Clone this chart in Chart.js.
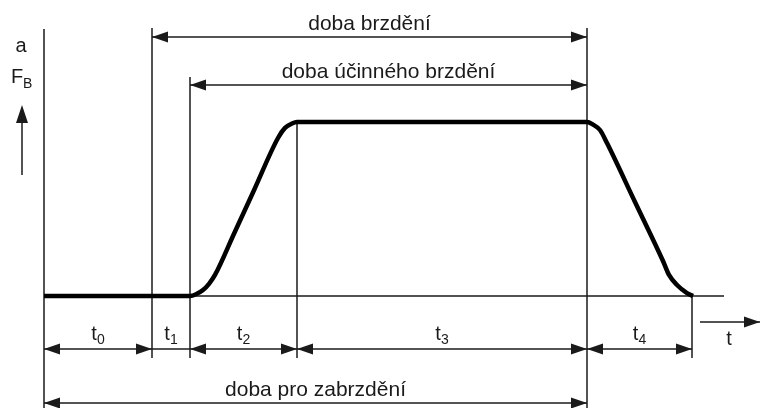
<!DOCTYPE html>
<html>
<head>
<meta charset="utf-8">
<script src="https://cdn.jsdelivr.net/npm/chart.js@4/dist/chart.umd.min.js"></script>
<style>
  html, body { margin: 0; padding: 0; background: #fff; }
  #wrap { width: 760px; height: 408px; }
</style>
</head>
<body>
<div id="wrap"><canvas id="brakeChart" width="760" height="408"></canvas></div>
<script>
// braking phases t0..t4 and their durations (same units as the time axis)
const phaseNames = ['0', '1', '2', '3', '4'];
const phaseDurations = [108, 38, 107, 290, 105];
const timeAxisEnd = 680;

// braking deceleration / force profile, 1 = full braking
const curveTime  = [0, 146, 152, 159, 165, 171, 190, 210, 234, 241, 248, 253,
                    543, 549, 556, 563, 591, 619, 625, 633, 643, 649];
const curveLevel = [0, 0, 0.01, 0.034, 0.07, 0.121, 0.358, 0.608, 0.908, 0.966, 0.991, 1,
                    1, 0.985, 0.954, 0.879, 0.54, 0.201, 0.121, 0.063, 0.017, 0];

// time spans over the diagram: label, first phase, last phase
const spanLabels = ['doba brzdění', 'doba účinného brzdění', 'doba pro zabrzdění'];
const spanFrom = [1, 2, 0];
const spanTo = [3, 3, 3];

const bounds = [0];
phaseDurations.forEach(d => bounds.push(bounds[bounds.length - 1] + d));

const FONT = '"Liberation Sans", Arial, sans-serif';
const INK = '#1a1a1a';

function arrowHead(ctx, x, y, dir) {
  // dir: 1 = pointing right, -1 = left, 'up'
  ctx.beginPath();
  if (dir === 'up') {
    ctx.moveTo(x, y);
    ctx.lineTo(x - 6, y + 18);
    ctx.lineTo(x + 6, y + 18);
  } else {
    ctx.moveTo(x, y);
    ctx.lineTo(x - dir * 16, y - 5.5);
    ctx.lineTo(x - dir * 16, y + 5.5);
  }
  ctx.closePath();
  ctx.fill();
}

function dimLine(ctx, x1, x2, y, heads) {
  ctx.beginPath();
  ctx.moveTo(x1, y);
  ctx.lineTo(x2, y);
  ctx.stroke();
  if (heads) {
    arrowHead(ctx, x1, y, -1);
    arrowHead(ctx, x2, y, 1);
  }
}

const diagramPlugin = {
  id: 'diagram',
  beforeDatasetsDraw(chart) {
    const ctx = chart.ctx;
    const xs = chart.scales.x, ys = chart.scales.y;
    const base = ys.getPixelForValue(0);
    const top = ys.getPixelForValue(1);
    const bx = bounds.map(b => xs.getPixelForValue(b));

    ctx.save();
    ctx.strokeStyle = INK;
    ctx.lineWidth = 1.5;
    // time axis
    ctx.beginPath();
    ctx.moveTo(bx[0], base);
    ctx.lineTo(xs.getPixelForValue(timeAxisEnd), base);
    ctx.stroke();
    // phase boundaries
    const tops = [29, 28, 77, top, 28, base];
    const bottoms = [408, 358, 358, 358, 408, 358];
    bx.forEach((x, i) => {
      ctx.beginPath();
      ctx.moveTo(x, tops[i]);
      ctx.lineTo(x, bottoms[i]);
      ctx.stroke();
    });
    ctx.restore();
  },
  afterDraw(chart) {
    const ctx = chart.ctx;
    const xs = chart.scales.x;
    const bx = bounds.map(b => xs.getPixelForValue(b));

    ctx.save();
    ctx.strokeStyle = INK;
    ctx.fillStyle = INK;
    ctx.lineWidth = 1.5;
    ctx.textAlign = 'center';
    ctx.textBaseline = 'alphabetic';

    // spans over and under the diagram
    const spanRows = [37, 85, 403];
    ctx.font = '21px ' + FONT;
    spanLabels.forEach((label, i) => {
      const x1 = bx[spanFrom[i]], x2 = bx[spanTo[i] + 1];
      dimLine(ctx, x1, x2, spanRows[i], true);
      ctx.fillText(label, (x1 + x2) / 2, spanRows[i] - 7);
    });

    // phase row t0..t4
    const rowY = 349;
    phaseNames.forEach((sub, i) => {
      const x1 = bx[i], x2 = bx[i + 1];
      dimLine(ctx, x1, x2, rowY, x2 - x1 > 50);
      ctx.font = '20px ' + FONT;
      const tw = ctx.measureText('t').width;
      ctx.font = '14px ' + FONT;
      const sw = ctx.measureText(sub).width;
      const left = (x1 + x2) / 2 - (tw + sw) / 2;
      ctx.textAlign = 'left';
      ctx.font = '20px ' + FONT;
      ctx.fillText('t', left, rowY - 9);
      ctx.font = '14px ' + FONT;
      ctx.fillText(sub, left + tw, rowY - 5);
      ctx.textAlign = 'center';
    });

    // time arrow
    const tx = bx[bx.length - 1] + 8;
    ctx.beginPath();
    ctx.moveTo(tx, 322);
    ctx.lineTo(chart.width, 322);
    ctx.stroke();
    arrowHead(ctx, chart.width, 322, 1);
    ctx.font = '20px ' + FONT;
    ctx.fillText('t', 729, 345);

    // quantity label and arrow
    ctx.fillText('a', 21, 52);
    ctx.textAlign = 'left';
    ctx.fillText('F', 11, 83);
    ctx.font = '14px ' + FONT;
    ctx.fillText('B', 23, 88);
    ctx.beginPath();
    ctx.moveTo(22, 175);
    ctx.lineTo(22, 115);
    ctx.stroke();
    arrowHead(ctx, 22, 105, 'up');
    ctx.restore();
  }
};

new Chart(document.getElementById('brakeChart'), {
  type: 'line',
  data: {
    datasets: [{
      data: curveTime.map((t, i) => ({ x: t, y: curveLevel[i] })),
      borderColor: '#000',
      borderWidth: 4.5,
      pointRadius: 0,
      cubicInterpolationMode: 'monotone',
      clip: false
    }]
  },
  options: {
    responsive: false,
    devicePixelRatio: 1,
    animation: false,
    layout: { padding: { left: 44, right: 36, top: 122, bottom: 112 } },
    scales: {
      x: { type: 'linear', min: 0, max: timeAxisEnd, display: false },
      y: { min: 0, max: 1, display: false }
    },
    plugins: { legend: { display: false }, tooltip: { enabled: false } }
  },
  plugins: [diagramPlugin]
});
</script>
</body>
</html>
